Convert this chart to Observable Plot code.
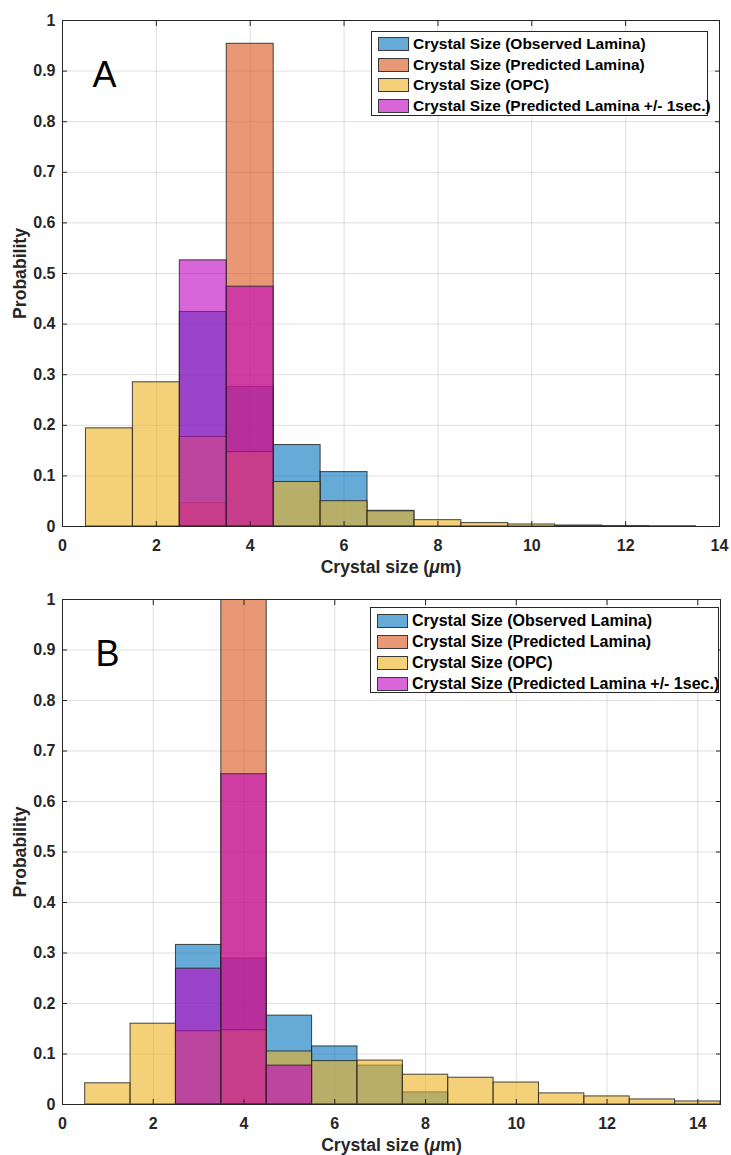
<!DOCTYPE html>
<html>
<head>
<meta charset="utf-8">
<script src="https://cdn.jsdelivr.net/npm/d3@7"></script>
<script src="https://cdn.jsdelivr.net/npm/@observablehq/plot@0.6"></script>
<style>
  body { margin: 0; background: #fff; font-family: "Liberation Sans", Arial, sans-serif; }
  #chart { position: relative; width: 731px; height: 1155px; overflow: hidden; }
  .panel { position: relative; width: 731px; }
  .panel svg { display: block; }
  .legend { position: absolute; background: #fff; border: 1px solid #262626; box-sizing: border-box; }
  .sw { position: absolute; width: 31px; height: 14px; box-sizing: border-box; border: 1px solid #3a3a3a; }
  .lt { position: absolute; font-weight: bold; line-height: 20px; white-space: nowrap; color: #000; }
</style>
</head>
<body>
<div id="chart"></div>
<script>
// ---- data ----
const binCenters = [1, 2, 3, 4, 5, 6, 7, 8, 9, 10, 11, 12, 13, 14];
const binWidth = 1;
const seriesNames = [
  "Crystal Size (Observed Lamina)",
  "Crystal Size (Predicted Lamina)",
  "Crystal Size (OPC)",
  "Crystal Size (Predicted Lamina +/- 1sec.)"
];
const seriesColors = ["#0072BD", "#D95319", "#EDB120", "#BF00BF"];
const panelLabels = ["A", "B"];
const xTitle = "Crystal size (μm)";
const yTitle = "Probability";
const xTicks = [0, 2, 4, 6, 8, 10, 12, 14];
const yTicks = [0, 0.1, 0.2, 0.3, 0.4, 0.5, 0.6, 0.7, 0.8, 0.9, 1];
const xMaxA = 14;
const xMaxB = 14.5;

// Panel A
const aObserved  = [0, 0, 0.424, 0.276, 0.161, 0.1075, 0.031, 0, 0, 0, 0, 0, 0, 0];
const aPredicted = [0, 0, 0.046, 0.954, 0, 0, 0, 0, 0, 0, 0, 0, 0, 0];
const aOPC       = [0.194, 0.285, 0.177, 0.147, 0.088, 0.050, 0.030, 0.0125, 0.0067, 0.004, 0.002, 0.001, 0.0005, 0];
const aPredPM    = [0, 0, 0.526, 0.474, 0, 0, 0, 0, 0, 0, 0, 0, 0, 0];

// Panel B
const bObserved  = [0, 0, 0.316, 0.289, 0.176, 0.115, 0.077, 0.024, 0, 0, 0, 0, 0, 0];
const bPredicted = [0, 0, 0, 1.0, 0, 0, 0, 0, 0, 0, 0, 0, 0, 0];
const bOPC       = [0.042, 0.160, 0.145, 0.147, 0.105, 0.086, 0.087, 0.059, 0.053, 0.0435, 0.022, 0.016, 0.010, 0.006];
const bPredPM    = [0, 0, 0.269, 0.654, 0.077, 0, 0, 0, 0, 0, 0, 0, 0, 0];

// ---- drawing ----
const font = '"Liberation Sans", Arial, sans-serif';
const ink = "#262626";

function rowsFor(vals) {
  return binCenters.map((c, i) => ({lo: c - binWidth / 2, hi: c + binWidth / 2, p: vals[i]}))
    .filter(d => d.p > 0);
}

function makePanel(label, series, xMax, opts) {
  const svg = Plot.plot({
    width: 731,
    height: opts.height,
    marginLeft: 62,
    marginRight: opts.marginRight,
    marginTop: opts.marginTop,
    marginBottom: opts.marginBottom,
    x: {domain: [0, xMax]},
    y: {domain: [0, 1]},
    style: {fontFamily: font, fontSize: "16px", fontWeight: "bold", color: ink, background: "white", overflow: "visible"},
    marks: [
      Plot.gridX(xTicks, {stroke: ink, strokeOpacity: 0.15}),
      Plot.gridY(yTicks, {stroke: ink, strokeOpacity: 0.15}),
      ...series.map((vals, i) => Plot.rect(rowsFor(vals), {
        x1: "lo", x2: "hi", y1: 0, y2: "p",
        fill: seriesColors[i], fillOpacity: 0.6,
        stroke: ink, strokeOpacity: 0.85, strokeWidth: 1, clip: true
      })),
      Plot.frame({stroke: ink, strokeWidth: 1}),
      Plot.axisX(xTicks, {anchor: "bottom", tickSize: -5, tickPadding: 18, tickFormat: d => String(d), label: null}),
      Plot.axisX(xTicks, {anchor: "top", tickSize: -5, tickFormat: () => "", label: null}),
      Plot.axisY(yTicks, {anchor: "left", tickSize: -5, tickPadding: 12, tickFormat: d => String(d), label: null}),
      Plot.axisY(yTicks, {anchor: "right", tickSize: -5, tickFormat: () => "", label: null}),
      Plot.text([xTitle], {frameAnchor: "bottom", dy: 41, textAnchor: "middle", lineAnchor: "middle", fontSize: 17.6, fontWeight: "bold", fill: ink}),
      Plot.text([yTitle], {frameAnchor: "left", dx: -42, rotate: -90, textAnchor: "middle", lineAnchor: "middle", fontSize: 17.6, fontWeight: "bold", fill: ink}),
      Plot.text([label], {frameAnchor: "top-left", dx: opts.labelDx, dy: opts.labelDy, textAnchor: "middle", lineAnchor: "bottom", fontSize: 36, fontWeight: "normal", fill: "black"})
    ]
  });

  // italic mu in the x title (TeX style)
  d3.select(svg).selectAll("text").each(function () {
    const t = d3.select(this);
    const s = this.textContent;
    if (s === xTitle) {
      const k = s.indexOf("μ");
      t.text(null);
      t.append("tspan").text(s.slice(0, k));
      t.append("tspan").attr("font-style", "italic").text("μ");
      t.append("tspan").text(s.slice(k + 1));
    }
  });

  const div = document.createElement("div");
  div.className = "panel";
  div.style.height = opts.height + "px";
  div.appendChild(svg);

  // legend
  const lg = document.createElement("div");
  lg.className = "legend";
  lg.style.left = opts.legend.left + "px";
  lg.style.top = (opts.marginTop + opts.legend.top) + "px";
  lg.style.width = opts.legend.width + "px";
  lg.style.height = opts.legend.height + "px";
  seriesNames.forEach((name, i) => {
    const c = opts.legend.first + i * opts.legend.step;
    const sw = document.createElement("div");
    sw.className = "sw";
    sw.style.left = "6px";
    sw.style.top = (c - 7) + "px";
    sw.style.background = d3.interpolateRgb("white", seriesColors[i])(0.6);
    lg.appendChild(sw);
    const tx = document.createElement("div");
    tx.className = "lt";
    tx.style.left = "41px";
    tx.style.top = (c - 10) + "px";
    tx.style.fontSize = opts.legend.fontSize + "px";
    tx.textContent = name;
    lg.appendChild(tx);
  });
  div.appendChild(lg);
  return div;
}

const chart = document.getElementById("chart");
chart.appendChild(makePanel(panelLabels[0], [aObserved, aPredicted, aOPC, aPredPM], xMaxA,
  {height: 577, marginTop: 20, marginBottom: 51, marginRight: 12, labelDx: 42, labelDy: 66,
   legend: {left: 371, top: 11, width: 337, height: 85, first: 12, step: 20.5, fontSize: 15.5}}));
chart.appendChild(makePanel(panelLabels[1], [bObserved, bPredicted, bOPC, bPredPM], xMaxB,
  {height: 578, marginTop: 22, marginBottom: 51, marginRight: 11, labelDx: 45, labelDy: 66,
   legend: {left: 370, top: 8, width: 349, height: 86, first: 12.5, step: 21, fontSize: 16}}));
</script>
</body>
</html>
